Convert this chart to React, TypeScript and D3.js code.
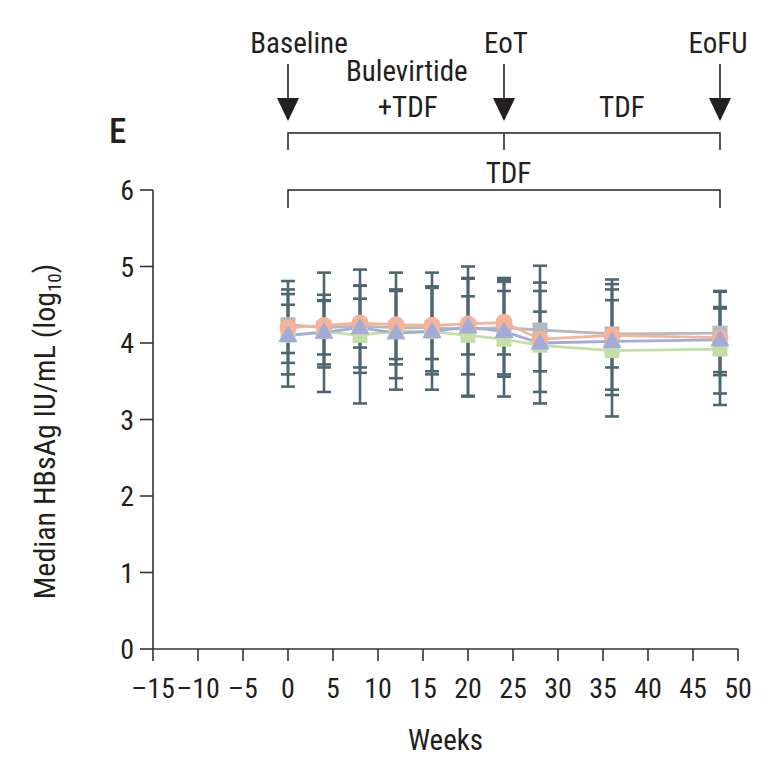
import React from "react";
import * as d3 from "d3";

const weeks = [0, 4, 8, 12, 16, 20, 24, 28, 36, 48];
const xTicks = [-15, -10, -5, 0, 5, 10, 15, 20, 25, 30, 35, 40, 45, 50];
const yTicks = [0, 1, 2, 3, 4, 5, 6];

// medians per group
const greyVals = [4.24, 4.2, 4.22, 4.2, 4.2, 4.18, 4.2, 4.17, 4.12, 4.13];
const greenVals = [4.1, 4.15, 4.1, 4.16, 4.15, 4.1, 4.05, 3.97, 3.9, 3.92];
const orangeVals = [4.2, 4.23, 4.26, 4.24, 4.23, 4.25, 4.27, 4.05, 4.1, 4.07];
const blueVals = [4.1, 4.14, 4.2, 4.13, 4.15, 4.21, 4.15, 4.0, 4.02, 4.04];

// interquartile ranges per group
const greyUpper = [4.81, 4.92, 4.96, 4.92, 4.92, 5.0, 4.85, 5.01, 4.83, 4.68];
const greyLower = [3.43, 3.36, 3.21, 3.39, 3.39, 3.31, 3.3, 3.21, 3.04, 3.19];
const greenUpper = [4.7, 4.63, 4.75, 4.7, 4.74, 4.85, 4.8, 4.79, 4.77, 4.67];
const greenLower = [3.59, 3.68, 3.61, 3.54, 3.59, 3.3, 3.56, 3.36, 3.32, 3.34];
const orangeUpper = [4.64, 4.56, 4.75, 4.69, 4.73, 4.84, 4.82, 4.68, 4.7, 4.47];
const orangeLower = [3.74, 3.72, 3.68, 3.72, 3.63, 3.59, 3.59, 3.63, 3.39, 3.58];
const blueUpper = [4.5, 4.55, 4.58, 4.68, 4.72, 4.61, 4.68, 4.41, 4.56, 4.45];
const blueLower = [3.87, 3.85, 3.94, 3.79, 3.79, 3.85, 3.85, 3.93, 3.68, 3.62];

const series = [
  { name: "grey", color: "#b3bbbf", vals: greyVals, up: greyUpper, lo: greyLower, shape: "square" },
  { name: "green", color: "#c4dfa6", vals: greenVals, up: greenUpper, lo: greenLower, shape: "square" },
  { name: "orange", color: "#f7b39a", vals: orangeVals, up: orangeUpper, lo: orangeLower, shape: "circle" },
  { name: "blue", color: "#a3abd9", vals: blueVals, up: blueUpper, lo: blueLower, shape: "triangle" },
];

const FONT = "'Liberation Sans Narrow', 'Roboto Condensed', 'Noto Sans', sans-serif";
const TXT = "#231f20";
const ERR = "#4d6672";

export default function App() {
  const x = d3.scaleLinear().domain([-15, 50]).range([153, 738]);
  const y = d3.scaleLinear().domain([0, 6]).range([649, 190]);
  const line = d3
    .line<number>()
    .x((_, i) => x(weeks[i]))
    .y((d) => y(d));
  const tri = d3.symbol().type(d3.symbolTriangle).size(160)();

  const arrows = [
    { w: 0, label: "Baseline", dx: 11 },
    { w: 24, label: "EoT", dx: 2 },
    { w: 48, label: "EoFU", dx: -2 },
  ];

  return (
    <svg
      width={768}
      height={764}
      style={{ position: "absolute", left: 0, top: 0, background: "#fff" }}
      fontFamily={FONT}
    >
      <rect width={768} height={764} fill="#fff" />
      {/* panel letter */}
      <text x={109} y={143} fontSize={35} fontWeight={500} fill={TXT}>
        E
      </text>

      {/* arrows and top labels */}
      {arrows.map((a) => (
        <g key={a.label}>
          <text x={x(a.w) + a.dx} y={53} fontSize={29} textAnchor="middle" fill={TXT}>
            {a.label}
          </text>
          <line x1={x(a.w)} x2={x(a.w)} y1={64} y2={102} stroke={TXT} strokeWidth={1.6} />
          <path
            d={`M${x(a.w) - 11},${98} L${x(a.w) + 11},${98} L${x(a.w)},${121} Z`}
            fill={TXT}
          />
        </g>
      ))}
      <text x={x(13.2)} y={81} fontSize={29} textAnchor="middle" fill={TXT}>
        Bulevirtide
      </text>
      <text x={x(13.3)} y={117} fontSize={29} textAnchor="middle" fill={TXT}>
        +TDF
      </text>
      <text x={x(37.1)} y={117} fontSize={29} textAnchor="middle" fill={TXT}>
        TDF
      </text>

      {/* bracket 1 */}
      <path
        d={`M${x(0)},150 V133 H${x(48)} V150 M${x(24)},133 V150`}
        fill="none"
        stroke={TXT}
        strokeWidth={1.5}
      />
      <text x={x(24.5)} y={183} fontSize={29} textAnchor="middle" fill={TXT}>
        TDF
      </text>
      {/* bracket 2 */}
      <path
        d={`M${x(0)},208 V190 H${x(48)} V208`}
        fill="none"
        stroke={TXT}
        strokeWidth={1.5}
      />

      {/* y axis */}
      <line x1={153} x2={153} y1={y(6)} y2={y(0)} stroke="#333" strokeWidth={1.6} />
      {yTicks.map((t) => (
        <g key={t}>
          <line x1={140} x2={153} y1={y(t)} y2={y(t)} stroke="#333" strokeWidth={1.6} />
          <text x={134} y={y(t) + 10} fontSize={28} textAnchor="end" fill={TXT}>
            {t}
          </text>
        </g>
      ))}
      <text
        transform={`translate(55,${(y(6) + y(0)) / 2 + 12}) rotate(-90)`}
        fontSize={30}
        textAnchor="middle"
        fill={TXT}
      >
        Median HBsAg IU/mL (log
        <tspan fontSize={19} dy={6}>
          10
        </tspan>
        <tspan dy={-6}>)</tspan>
      </text>

      {/* x axis */}
      <line x1={x(-15)} x2={x(50)} y1={y(0)} y2={y(0)} stroke="#333" strokeWidth={1.6} />
      {xTicks.map((t) => (
        <g key={t}>
          <line x1={x(t)} x2={x(t)} y1={y(0)} y2={y(0) + 12} stroke="#333" strokeWidth={1.6} />
          <text x={x(t)} y={698} fontSize={28} textAnchor="middle" fill={TXT}>
            {t < 0 ? `–${Math.abs(t)}` : t}
          </text>
        </g>
      ))}
      <text x={x(17.5)} y={750} fontSize={29} textAnchor="middle" fill={TXT}>
        Weeks
      </text>

      {/* error bars */}
      {series.map((s) =>
        weeks.map((w, i) => (
          <g key={s.name + w} stroke={ERR} strokeWidth={2.6}>
            <line x1={x(w)} x2={x(w)} y1={y(s.lo[i])} y2={y(s.up[i])} />
            <line x1={x(w) - 7} x2={x(w) + 7} y1={y(s.lo[i])} y2={y(s.lo[i])} />
            <line x1={x(w) - 7} x2={x(w) + 7} y1={y(s.up[i])} y2={y(s.up[i])} />
          </g>
        ))
      )}

      {/* lines */}
      {series.map((s) => (
        <path key={s.name} d={line(s.vals) || ""} fill="none" stroke={s.color} strokeWidth={2.8} />
      ))}

      {/* markers */}
      {series.map((s) =>
        weeks.map((w, i) => {
          const cx = x(w);
          const cy = y(s.vals[i]);
          if (s.shape === "square")
            return <rect key={s.name + w} x={cx - 7.5} y={cy - 7.5} width={15} height={15} fill={s.color} />;
          if (s.shape === "circle")
            return <circle key={s.name + w} cx={cx} cy={cy} r={8.5} fill={s.color} />;
          return (
            <path key={s.name + w} d={tri || ""} transform={`translate(${cx},${cy + 1})`} fill={s.color} />
          );
        })
      )}
    </svg>
  );
}
